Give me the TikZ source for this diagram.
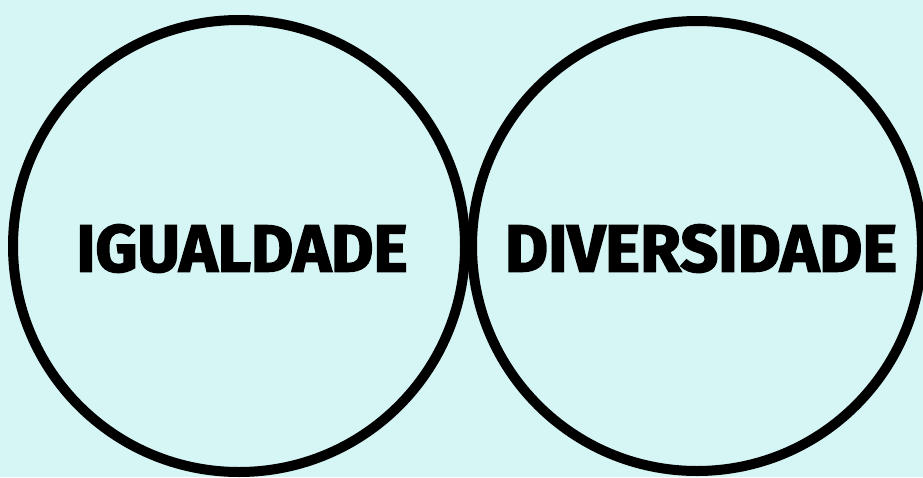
\documentclass[tikz,border=0pt]{standalone}
\usepackage{fontspec}
\setmainfont{Fira Sans}
\newfontfamily\heavyfont[BoldFont={Fira Sans Bold},BoldFeatures={FakeBold=2.5}]{Fira Sans}
\definecolor{bgcyan}{RGB}{214,245,245}
\tikzset{
  ring/.style={draw=black, line width=10pt},
  label/.style={inner sep=0pt, font=\heavyfont\bfseries}
}
\begin{document}
\begin{tikzpicture}[x=1pt,y=-1pt]
  \fill[bgcyan] (0,0) rectangle (923,477);
  \useasboundingbox (0,0) rectangle (923,477);
  \node[ring, circle, minimum size=452pt, inner sep=0pt] (igual) at (239,246) {};
  \node[ring, circle, minimum size=450pt, inner sep=0pt] (diver) at (697,246) {};
  \node[label] (t1) at (242,248.5) {\resizebox{331pt}{47pt}{IGUALDADE}};
  \node[label] (t2) at (701,248.5) {\resizebox{392pt}{47pt}{DIVERSIDADE}};
\end{tikzpicture}
\end{document}
